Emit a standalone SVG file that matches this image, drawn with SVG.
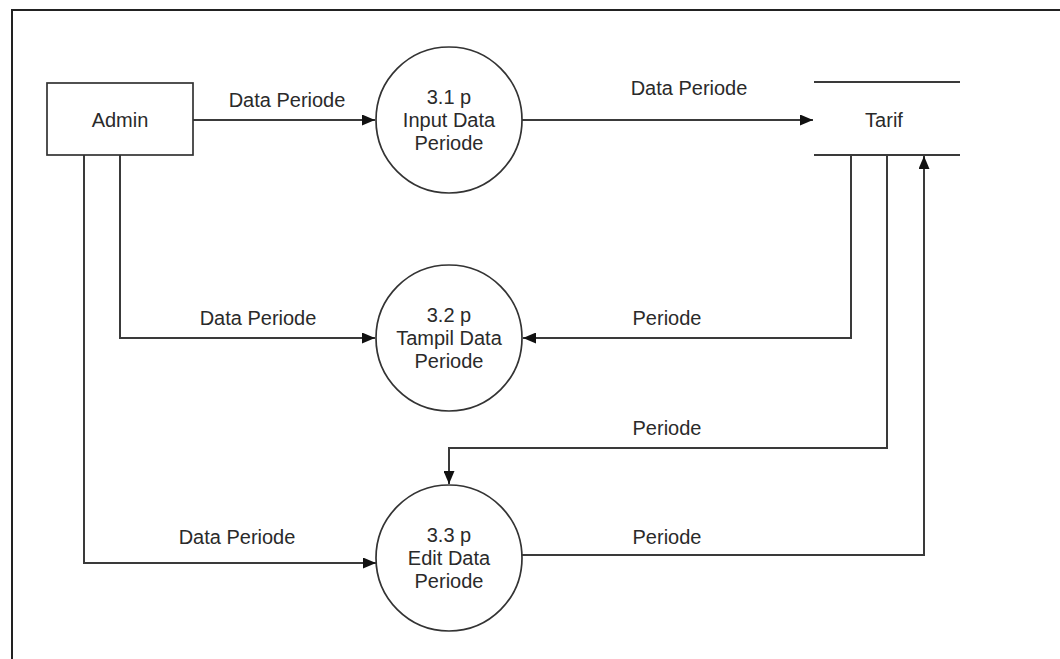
<svg xmlns="http://www.w3.org/2000/svg" width="1060" height="659" viewBox="0 0 1060 659">
<style>
text{font-family:"Liberation Sans",Arial,sans-serif;font-size:20px;fill:#2a2a2a;text-anchor:middle;dominant-baseline:central}
.shape{fill:#fff;stroke:#333;stroke-width:1.7}
.flow{fill:none;stroke:#3a3a3a;stroke-width:2}
.store{stroke:#3a3a3a;stroke-width:2}
</style>
<defs>
<marker id="arr" viewBox="0 0 13 11" refX="13" refY="5.5" markerWidth="13" markerHeight="11" markerUnits="userSpaceOnUse" orient="auto">
<path d="M0,0 L13,5.5 L0,11 Z" fill="#111"/>
</marker>
</defs>
<rect width="1060" height="659" fill="#fff"/>
<path d="M12,659 V10 H1060" fill="none" stroke="#222" stroke-width="2"/>
<g id="connectors">
<path class="flow" d="M193,120 H375" marker-end="url(#arr)"/>
<text x="287" y="100">Data Periode</text>
<path class="flow" d="M522,120 H813" marker-end="url(#arr)"/>
<text x="689" y="88">Data Periode</text>
<path class="flow" d="M120,155 V338 H375" marker-end="url(#arr)"/>
<text x="258" y="318">Data Periode</text>
<path class="flow" d="M851,155 V338 H523" marker-end="url(#arr)"/>
<text x="667" y="318">Periode</text>
<path class="flow" d="M887,155 V448 H449 V484" marker-end="url(#arr)"/>
<text x="667" y="428">Periode</text>
<path class="flow" d="M84,155 V563 H376" marker-end="url(#arr)"/>
<text x="237" y="537">Data Periode</text>
<path class="flow" d="M522,555 H924 V156" marker-end="url(#arr)"/>
<text x="667" y="537">Periode</text>
</g>
<g id="admin">
<rect class="shape" x="47" y="83" width="146" height="72"/>
<text x="120" y="120">Admin</text>
</g>
<g id="p31">
<circle class="shape" cx="449" cy="120" r="73"/>
<text x="449" y="97">3.1 p</text>
<text x="449" y="120">Input Data</text>
<text x="449" y="143">Periode</text>
</g>
<g id="p32">
<circle class="shape" cx="449" cy="338" r="73"/>
<text x="449" y="315">3.2 p</text>
<text x="449" y="338">Tampil Data</text>
<text x="449" y="361">Periode</text>
</g>
<g id="p33">
<circle class="shape" cx="449" cy="558" r="73"/>
<text x="449" y="535">3.3 p</text>
<text x="449" y="558">Edit Data</text>
<text x="449" y="581">Periode</text>
</g>
<g id="tarif">
<line class="store" x1="814" y1="82" x2="960" y2="82"/>
<line class="store" x1="814" y1="155" x2="960" y2="155"/>
<text x="884" y="120">Tarif</text>
</g>
</svg>
